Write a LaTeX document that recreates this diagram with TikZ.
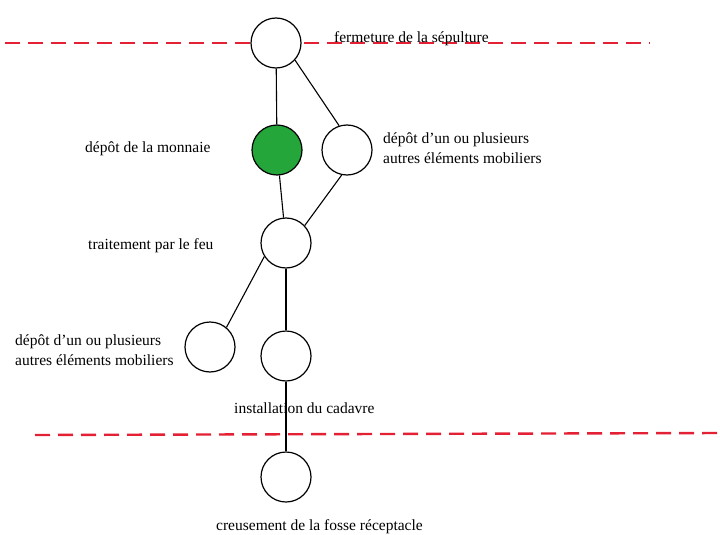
\documentclass[tikz,border=0pt]{standalone}
\usepackage{fontspec}
\setmainfont{Liberation Serif}
\definecolor{rougelim}{RGB}{228,32,52}
\definecolor{vertmon}{RGB}{36,166,58}
\begin{document}
\begin{tikzpicture}[x=1pt,y=-1pt,
  etape/.style={circle,draw,line width=1.2pt,minimum size=50pt,inner sep=0pt},
  lien/.style={line width=1.1pt},
  limite/.style={rougelim,line width=2.4pt,dash pattern=on 15pt off 8pt},
  lbl/.style={font=\fontsize{15.5}{20}\selectfont,inner sep=0pt,align=left}]
  \useasboundingbox (0,0) rectangle (720,535);
  % limites de la fosse
  \draw[limite] (5,43) -- (650,43);
  \draw[limite] (35,435) -- (720,433);
  % etapes
  \node[etape,fill=white] (ferm) at (276,43) {};
  \node[etape,fill=vertmon] (monn) at (277,150) {};
  \node[etape] (mobh) at (347,150) {};
  \node[etape] (feu) at (286,243) {};
  \node[etape] (mobb) at (210,347) {};
  \node[etape] (cadv) at (286,356) {};
  \node[etape] (creus) at (286,477) {};
  % liens
  \draw[lien] (ferm) -- (monn);
  \draw[lien] (ferm.-42) -- (mobh.108);
  \draw[lien] (monn) -- (feu);
  \draw[lien] (mobh.258) -- (feu.43);
  \draw[lien] (feu.212) -- (mobb.50);
  \draw[lien] (feu) -- (cadv);
  % textes
  \node[lbl,anchor=west] (tferm) at (334,39) {fermeture de la sépulture};
  \node[lbl,anchor=west] (tmonn) at (85,149) {dépôt de la monnaie};
  \node[lbl,anchor=west] (tmobh) at (383,148) {dépôt d’un ou plusieurs\\autres éléments mobiliers};
  \node[lbl,anchor=west] (tfeu) at (88,246) {traitement par le feu};
  \node[lbl,anchor=west] (tmobb) at (15,350) {dépôt d’un ou plusieurs\\autres éléments mobiliers};
  \node[lbl,anchor=west] (tcadv) at (234,408) {installation du cadavre};
  \node[lbl,anchor=west] (tcreus) at (216,527) {creusement de la fosse réceptacle};
  \draw[lien] (cadv) -- (creus);
\end{tikzpicture}
\end{document}
